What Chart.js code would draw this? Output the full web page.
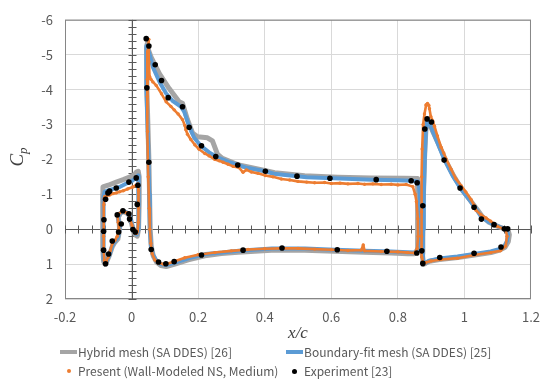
<!DOCTYPE html>
<html>
<head>
<meta charset="utf-8">
<script src="https://cdn.jsdelivr.net/npm/chart.js@4/dist/chart.umd.min.js"></script>
<style>
  html, body { margin: 0; padding: 0; background: #fff; }
  #wrap { position: relative; width: 550px; height: 385px; font-family: 'Noto Sans CJK JP', 'Noto Sans', sans-serif; }
  #c { position: absolute; left: 0; top: 0; }
  #ylab { position: absolute; left: -3px; top: 145px; width: 40px; height: 24px; line-height: 24px; text-align: center;
          transform: rotate(-90deg); font-family: 'Liberation Serif', serif; font-style: italic; font-size: 19px; color: #404040; }
  #ylab sub { font-size: 13px; vertical-align: -4px; }
  .lg { position: absolute; height: 16px; line-height: 16px; font-size: 12px; color: #595959; white-space: nowrap; }
  .ln { position: absolute; top: 6px; width: 17px; height: 4px; }
  .dt { position: absolute; border-radius: 50%; }
  .tx { position: absolute; left: 18px; top: 0; }
</style>
</head>
<body>
<div id="wrap">
  <canvas id="c" width="550" height="385"></canvas>
  <div id="ylab">C<sub>p</sub></div>
  <div id="legend"></div>
</div>
<script>
// ---------------- data (x/c, Cp) ----------------
const seriesNames = ['Hybrid mesh (SA DDES) [26]', 'Boundary-fit mesh (SA DDES) [25]', 'Present (Wall-Modeled NS, Medium)', 'Experiment [23]'];
const xTickValues = [-0.2, 0, 0.2, 0.4, 0.6, 0.8, 1, 1.2];
const xTickLabels = ['-0.2', '0', '0.2', '0.4', '0.6', '0.8', '1', '1.2'];
const yTickValues = [-6, -5, -4, -3, -2, -1, 0, 1, 2];
const yTickLabels = ['-6', '-5', '-4', '-3', '-2', '-1', '0', '1', '2'];

const experiment = [
  [-0.078, 0.99], [-0.084, 0.60], [-0.084, 0.06], [-0.083, -0.27], [-0.078, -0.86], [-0.071, -1.04], [-0.066, -1.09],
  [-0.046, -1.18], [-0.008, -1.35], [0.014, -1.47], [0.019, -1.26], [0.017, -0.71], [-0.069, 0.71], [-0.058, 0.34],
  [-0.039, 0.08], [-0.031, -0.15], [-0.043, -0.41], [-0.026, -0.53], [-0.008, -0.44], [-0.006, -0.29], [0.004, 0.01], [0.011, 0.08],
  [0.044, -5.46], [0.052, -5.25], [0.071, -4.71], [0.090, -4.26], [0.110, -3.77], [0.153, -3.51], [0.173, -2.92],
  [0.210, -2.39], [0.253, -2.08], [0.319, -1.84], [0.402, -1.66], [0.497, -1.52], [0.596, -1.46], [0.735, -1.42],
  [0.840, -1.39], [0.858, -1.33], [0.046, -4.05], [0.052, -1.92], [0.059, 0.58], [0.081, 0.94], [0.103, 0.99],
  [0.128, 0.93], [0.210, 0.74], [0.335, 0.60], [0.452, 0.54], [0.618, 0.59], [0.767, 0.63], [0.857, 0.68],
  [0.872, 0.62], [0.875, -0.67], [0.881, -2.87], [0.888, -3.16], [0.901, -3.07], [0.939, -1.98], [0.987, -1.18],
  [1.029, -0.63], [1.051, -0.29], [1.089, -0.13], [1.120, -0.01], [1.130, -0.01], [1.110, 0.51], [1.029, 0.69],
  [0.926, 0.81], [0.875, 0.98]
];

const hybridSlat = [
  [-0.086, -1.0], [-0.086, -1.21], [-0.07, -1.26], [-0.046, -1.35], [-0.025, -1.42], [-0.006, -1.49], [0.008, -1.56],
  [0.014, -1.63], [0.020, -1.66], [0.023, -1.5], [0.023, -0.8], [0.021, 0.0], [0.017, 0.2], [0.012, 0.17], [0.007, 0.08],
  [0.002, -0.08], [-0.003, -0.28], [-0.009, -0.42], [-0.017, -0.48], [-0.026, -0.50], [-0.034, -0.45], [-0.040, -0.34],
  [-0.037, -0.15], [-0.036, 0.02], [-0.041, 0.28], [-0.052, 0.40], [-0.058, 0.50], [-0.067, 0.76], [-0.075, 0.93],
  [-0.080, 1.0], [-0.084, 0.92], [-0.086, 0.6], [-0.087, 0.0], [-0.087, -0.5], [-0.086, -1.0]
];
const hybridMain = [
  [0.858, -1.45], [0.82, -1.46], [0.72, -1.47], [0.62, -1.49], [0.52, -1.53], [0.43, -1.62], [0.40, -1.68], [0.322, -1.84],
  [0.273, -2.03], [0.258, -2.15], [0.243, -2.53], [0.228, -2.62], [0.198, -2.65], [0.183, -2.76], [0.168, -3.14],
  [0.153, -3.61], [0.143, -3.65], [0.113, -4.03], [0.084, -4.45], [0.059, -4.92], [0.050, -5.15], [0.047, -5.32],
  [0.045, -5.2], [0.046, -4.0], [0.049, -3.0], [0.052, -2.0], [0.054, -1.0], [0.056, 0.0], [0.059, 0.48], [0.065, 0.76],
  [0.075, 0.94], [0.088, 1.04], [0.104, 1.07], [0.13, 1.0], [0.17, 0.88], [0.22, 0.76], [0.27, 0.70], [0.32, 0.66],
  [0.42, 0.60], [0.52, 0.60], [0.61, 0.63], [0.70, 0.66], [0.78, 0.68], [0.83, 0.70], [0.85, 0.70], [0.858, 0.62],
  [0.86, 0.0], [0.86, -1.0], [0.858, -1.45]
];
const hybridFlap = [
  [0.888, -3.10], [0.896, -3.0], [0.906, -2.78], [0.922, -2.45], [0.943, -1.98], [0.968, -1.52], [0.993, -1.13],
  [1.023, -0.76], [1.039, -0.56], [1.054, -0.36], [1.074, -0.2], [1.093, -0.11], [1.109, -0.05], [1.123, 0.0],
  [1.132, 0.06], [1.135, 0.16], [1.132, 0.35], [1.122, 0.52], [1.106, 0.60], [1.08, 0.67], [1.03, 0.74], [0.98, 0.81],
  [0.925, 0.87], [0.895, 0.92], [0.883, 0.98], [0.876, 1.01], [0.874, 0.7], [0.875, 0.0], [0.877, -1.0], [0.880, -2.0],
  [0.884, -2.8], [0.888, -3.10]
];

const boundarySlat = [
  [-0.083, -0.95], [-0.081, -1.07], [-0.07, -1.11], [-0.05, -1.17], [-0.036, -1.21], [-0.02, -1.29], [0.004, -1.40],
  [0.014, -1.48], [0.020, -1.54], [0.022, -1.3], [0.022, -0.5], [0.020, 0.0], [0.016, 0.15], [0.012, 0.12], [0.008, 0.05],
  [0.003, -0.08], [-0.002, -0.27], [-0.007, -0.40], [-0.012, -0.46], [-0.019, -0.50], [-0.026, -0.51], [-0.034, -0.46],
  [-0.041, -0.36], [-0.038, -0.18], [-0.036, -0.02], [-0.040, 0.22], [-0.050, 0.35], [-0.057, 0.45], [-0.066, 0.72],
  [-0.074, 0.90], [-0.079, 0.97], [-0.083, 0.88], [-0.085, 0.6], [-0.085, 0.0], [-0.084, -0.5], [-0.083, -0.95]
];
const boundaryMain = [
  [0.862, -1.36], [0.84, -1.39], [0.80, -1.40], [0.72, -1.42], [0.626, -1.45], [0.526, -1.49], [0.427, -1.59],
  [0.402, -1.66], [0.342, -1.77], [0.293, -1.92], [0.258, -2.06], [0.233, -2.20], [0.208, -2.39], [0.188, -2.62],
  [0.173, -2.95], [0.158, -3.37], [0.148, -3.51], [0.123, -3.68], [0.104, -3.89], [0.084, -4.22], [0.064, -4.64],
  [0.054, -5.01], [0.046, -5.25], [0.044, -5.0], [0.045, -4.0], [0.048, -3.0], [0.051, -2.0], [0.053, -1.0], [0.055, 0.0],
  [0.058, 0.45], [0.064, 0.72], [0.074, 0.9], [0.088, 1.0], [0.104, 1.03], [0.133, 0.95], [0.173, 0.83], [0.223, 0.71],
  [0.273, 0.67], [0.322, 0.62], [0.422, 0.55], [0.521, 0.55], [0.611, 0.59], [0.70, 0.62], [0.78, 0.64], [0.83, 0.66],
  [0.85, 0.67], [0.862, 0.55], [0.866, 0.0], [0.866, -1.0], [0.862, -1.36]
];
const boundaryFlap = [
  [0.888, -3.15], [0.895, -3.05], [0.905, -2.8], [0.919, -2.48], [0.939, -2.01], [0.964, -1.54], [0.989, -1.16],
  [1.019, -0.79], [1.035, -0.58], [1.049, -0.37], [1.07, -0.22], [1.089, -0.13], [1.105, -0.07], [1.119, -0.02],
  [1.128, 0.04], [1.131, 0.15], [1.128, 0.34], [1.119, 0.50], [1.104, 0.57], [1.079, 0.64], [1.029, 0.71], [0.979, 0.78],
  [0.925, 0.84], [0.895, 0.9], [0.883, 0.96], [0.877, 0.99], [0.875, 0.7], [0.876, 0.0], [0.878, -1.0], [0.881, -2.0],
  [0.884, -2.8], [0.888, -3.15]
];

const presentSlat = [
  [-0.082, -0.88], [-0.081, -0.93], [-0.075, -0.96], [-0.066, -0.98], [-0.055, -1.02], [-0.046, -1.04], [-0.036, -1.07],
  [-0.025, -1.1], [-0.012, -1.15], [0.004, -1.21], [0.012, -1.25], [0.019, -1.30], [0.021, -1.1], [0.021, -0.6],
  [0.020, -0.2], [0.018, 0.05], [0.015, 0.12], [0.011, 0.1], [0.006, 0.02], [0.001, -0.12], [-0.004, -0.3], [-0.009, -0.42],
  [-0.015, -0.47], [-0.022, -0.5], [-0.03, -0.5], [-0.037, -0.45], [-0.042, -0.38], [-0.040, -0.2], [-0.038, 0.0],
  [-0.043, 0.2], [-0.05, 0.32], [-0.058, 0.42], [-0.064, 0.62], [-0.07, 0.8], [-0.076, 0.92], [-0.079, 0.96],
  [-0.082, 0.9], [-0.084, 0.6], [-0.084, 0.2], [-0.084, -0.3], [-0.083, -0.7], [-0.082, -0.88]
];
const presentMain = [
  [0.856, -0.79], [0.852, -1.0], [0.845, -1.22], [0.825, -1.28], [0.80, -1.27], [0.78, -1.29], [0.75, -1.28], [0.725, -1.30],
  [0.70, -1.29], [0.68, -1.31], [0.65, -1.30], [0.626, -1.32], [0.60, -1.31], [0.58, -1.34], [0.55, -1.33], [0.526, -1.35],
  [0.50, -1.37], [0.475, -1.41], [0.45, -1.44], [0.425, -1.50], [0.402, -1.54], [0.38, -1.60], [0.36, -1.64], [0.345, -1.70],
  [0.335, -1.63], [0.322, -1.77], [0.305, -1.80], [0.29, -1.86], [0.275, -1.92], [0.263, -1.96], [0.25, -2.00], [0.233, -2.10],
  [0.22, -2.17], [0.203, -2.29], [0.19, -2.42], [0.178, -2.57], [0.168, -2.72], [0.163, -2.85], [0.16, -2.97], [0.153, -3.14],
  [0.14, -3.30], [0.128, -3.42], [0.118, -3.52], [0.104, -3.65], [0.09, -3.88], [0.074, -4.12], [0.064, -4.22], [0.058, -4.30],
  [0.054, -4.38], [0.052, -4.8], [0.051, -5.2], [0.052, -5.44], [0.049, -5.1], [0.047, -4.3], [0.047, -3.8], [0.048, -2.8],
  [0.050, -1.5], [0.053, -0.6], [0.055, 0.0], [0.058, 0.4], [0.062, 0.7], [0.07, 0.88], [0.08, 0.96], [0.095, 1.0],
  [0.11, 0.98], [0.13, 0.92], [0.16, 0.82], [0.2, 0.73], [0.25, 0.67], [0.3, 0.62], [0.35, 0.58], [0.4, 0.56], [0.45, 0.55],
  [0.5, 0.55], [0.55, 0.57], [0.6, 0.59], [0.65, 0.61], [0.69, 0.6], [0.696, 0.45], [0.70, 0.62], [0.75, 0.64], [0.8, 0.65],
  [0.83, 0.67], [0.85, 0.68], [0.858, 0.55], [0.861, 0.2], [0.86, -0.3], [0.856, -0.79]
];
const presentFlap = [
  [0.885, -3.56], [0.889, -3.60], [0.893, -3.55], [0.895, -3.45], [0.899, -3.23], [0.905, -3.1], [0.91, -2.95], [0.919, -2.67],
  [0.93, -2.35], [0.938, -2.18], [0.945, -2.01], [0.96, -1.72], [0.974, -1.45], [0.99, -1.25], [1.004, -1.07], [1.02, -0.85],
  [1.029, -0.69], [1.034, -0.55], [1.049, -0.42], [1.065, -0.32], [1.079, -0.23], [1.099, -0.08], [1.115, -0.02], [1.124, 0.01],
  [1.128, 0.2], [1.124, 0.48], [1.108, 0.62], [1.079, 0.67], [1.029, 0.74], [0.979, 0.83], [0.93, 0.87], [0.9, 0.91],
  [0.885, 0.95], [0.877, 1.0], [0.872, 0.8], [0.871, 0.2], [0.871, -0.5], [0.872, -1.5], [0.873, -2.3], [0.876, -3.0],
  [0.88, -3.3], [0.885, -3.56]
];

// ---------------- styles ----------------
const C_GRAY = '#a5a5a5', C_BLUE = '#5b9bd5', C_ORANGE = '#ed7d31', C_BLACK = '#000000';
const pts = a => a.map(([x, y]) => ({ x, y }));
const labelFor = (values, labels, v) => {
  const i = values.findIndex(t => Math.abs(t - v) < 1e-6);
  return i >= 0 ? labels[i] : '';
};

function lineSet(data, color, width, order) {
  return { data: pts(data), showLine: true, borderColor: color, borderWidth: width, pointRadius: 0,
           pointHoverRadius: 0, tension: 0, order, borderJoinStyle: 'round', borderCapStyle: 'round' };
}
function orangeSet(data) {
  return { data: pts(data), showLine: true, borderColor: C_ORANGE, borderWidth: 2.6, pointRadius: 1.7,
           pointBackgroundColor: C_ORANGE, pointBorderWidth: 0, tension: 0, order: 1, borderJoinStyle: 'round' };
}

const datasets = [
  { label: seriesNames[3], data: pts(experiment), showLine: false, pointRadius: 2.8, pointBackgroundColor: C_BLACK,
    pointBorderWidth: 0, order: 0 },
  orangeSet(presentSlat), orangeSet(presentMain), orangeSet(presentFlap),
  lineSet(boundarySlat, C_BLUE, 4, 2), lineSet(boundaryMain, C_BLUE, 4, 2), lineSet(boundaryFlap, C_BLUE, 4, 2),
  lineSet(hybridSlat, C_GRAY, 5, 3), lineSet(hybridMain, C_GRAY, 5, 3), lineSet(hybridFlap, C_GRAY, 5, 3)
];

// axis cross lines through x=0 and Cp=0 with minor ticks, plus plot frame
const crossAxes = {
  id: 'crossAxes',
  beforeDatasetsDraw(chart) {
    const { ctx, chartArea: a, scales: { x, y } } = chart;
    ctx.save();
    ctx.lineWidth = 1;
    ctx.strokeStyle = '#868686';
    ctx.strokeRect(a.left + 0.5, a.top + 0.5, a.right - a.left - 1, a.bottom - a.top - 1);
    const y0 = Math.round(y.getPixelForValue(0)) + 0.5;
    const x0 = Math.round(x.getPixelForValue(0)) + 0.5;
    ctx.strokeStyle = '#595959';
    ctx.beginPath();
    ctx.moveTo(a.left, y0); ctx.lineTo(a.right, y0);
    ctx.moveTo(x0, a.top); ctx.lineTo(x0, a.bottom);
    for (let i = 0; i <= 35; i++) {
      const px = Math.round(x.getPixelForValue(-0.2 + i * 0.04)) + 0.5;
      ctx.moveTo(px, y0 - 4); ctx.lineTo(px, y0 + 4);
    }
    for (let i = 0; i <= 40; i++) {
      const py = Math.round(y.getPixelForValue(-6 + i * 0.2)) + 0.5;
      ctx.moveTo(x0 - 4, py); ctx.lineTo(x0 + 4, py);
    }
    ctx.stroke();
    ctx.restore();
  }
};

const tickFont = { family: "'Noto Sans CJK JP', 'Noto Sans', sans-serif", size: 13 };

new Chart(document.getElementById('c'), {
  type: 'scatter',
  data: { datasets },
  plugins: [crossAxes],
  options: {
    responsive: false,
    animation: false,
    devicePixelRatio: 1,
    layout: { padding: { left: 0, right: 16, top: 15, bottom: 38 } },
    plugins: { legend: { display: false }, tooltip: { enabled: false } },
    scales: {
      x: {
        type: 'linear', min: -0.2, max: 1.2,
        ticks: { stepSize: 0.2, padding: 10, color: '#595959', font: tickFont,
                 callback: v => labelFor(xTickValues, xTickLabels, v) },
        grid: { color: '#d9d9d9', drawTicks: false },
        border: { display: false },
        title: { display: true, text: 'x/c', color: '#404040', padding: { top: 0, bottom: 3 },
                 font: { family: "'Liberation Serif', serif", style: 'italic', size: 17 } },
        afterFit: s => { s.height = 48; }
      },
      y: {
        type: 'linear', min: -6, max: 2, reverse: true,
        ticks: { stepSize: 1, padding: 12, color: '#595959', font: tickFont,
                 callback: v => labelFor(yTickValues, yTickLabels, v) },
        grid: { color: '#d9d9d9', drawTicks: false },
        border: { display: false },
        afterFit: s => { s.width = 65; }
      }
    }
  }
});

// ---------------- legend (HTML) ----------------
const legendItems = [
  { name: seriesNames[0], kind: 'line', color: C_GRAY, left: 60, top: 344 },
  { name: seriesNames[1], kind: 'line', color: C_BLUE, left: 286, top: 344 },
  { name: seriesNames[2], kind: 'dot', color: C_ORANGE, size: 4, left: 60, top: 363 },
  { name: seriesNames[3], kind: 'dot', color: C_BLACK, size: 5, left: 286, top: 363 }
];
const lg = document.getElementById('legend');
legendItems.forEach(it => {
  const d = document.createElement('div');
  d.className = 'lg';
  d.style.left = it.left + 'px';
  d.style.top = it.top + 'px';
  if (it.kind === 'line') {
    d.innerHTML = `<span class="ln" style="left:0;background:${it.color}"></span><span class="tx">${it.name}</span>`;
  } else {
    const s = it.size;
    d.innerHTML = `<span class="dt" style="left:${8.5 - s / 2}px;top:${8 - s / 2}px;width:${s}px;height:${s}px;background:${it.color}"></span><span class="tx">${it.name}</span>`;
  }
  lg.appendChild(d);
});
</script>
</body>
</html>
